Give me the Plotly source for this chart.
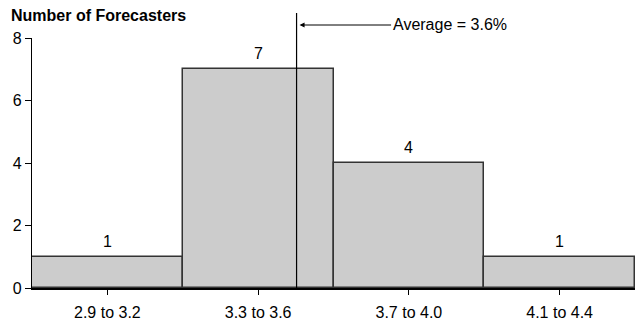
import plotly.graph_objects as go

categories = ["2.9 to 3.2", "3.3 to 3.6", "3.7 to 4.0", "4.1 to 4.4"]
counts = [1, 7, 4, 1]
y_ticks = [0, 2, 4, 6, 8]
average_label = "Average = 3.6%"
average_x = 1.255  # position of the average line on the category axis

FONT = "Liberation Sans, Arial"
xs = list(range(len(categories)))

fig = go.Figure()
fig.add_trace(go.Bar(
    x=xs, y=counts,
    marker=dict(color="#cccccc", line=dict(color="#333333", width=1.5)),
    width=1.0, hoverinfo="skip",
))

for xi, c in zip(xs, counts):
    fig.add_annotation(x=xi, y=c, xref="x", yref="y", text=str(c), showarrow=False,
                       yanchor="bottom", yshift=5,
                       font=dict(size=16, color="black", family=FONT))

fig.add_shape(type="line", xref="x", yref="paper", x0=average_x, x1=average_x,
              y0=0, y1=1.1, line=dict(color="black", width=1.2))

fig.add_annotation(x=average_x + 0.02, y=1.052, xref="x", yref="paper",
                   text=average_label, showarrow=True, axref="pixel", ayref="pixel",
                   ax=150, ay=0, arrowhead=2, arrowsize=1, arrowwidth=1,
                   arrowcolor="black", xanchor="center",
                   font=dict(size=16, color="black", family=FONT))

fig.add_annotation(text="<b>Number of Forecasters</b>", xref="paper", yref="paper",
                   x=-23/604, y=(288-16)/250, xanchor="left", yanchor="middle",
                   showarrow=False, font=dict(size=16, color="black", family=FONT))

fig.update_layout(
    width=637, height=321,
    margin=dict(l=32, r=2, t=38, b=33, autoexpand=False),
    plot_bgcolor="white", paper_bgcolor="white",
    bargap=0,
    showlegend=False,
    font=dict(family=FONT, size=16, color="black"),
    xaxis=dict(tickmode="array", tickvals=xs, ticktext=categories,
               range=[-0.5, 3.5], showline=True, linecolor="black", linewidth=2,
               ticks="outside", tickson="boundaries", ticklen=5, tickcolor="black",
               showgrid=False, zeroline=False, automargin=False,
               ticklabelstandoff=4, tickfont=dict(size=16)),
    yaxis=dict(range=[0, 8], tickvals=y_ticks, showline=True, linecolor="black",
               linewidth=1.2, ticks="outside", ticklen=6, tickcolor="black",
               showgrid=False, zeroline=False, automargin=False,
               tickfont=dict(size=16)),
)

fig.write_html("out.html", config={"displayModeBar": False},
               post_script="document.body.style.margin='0';")
